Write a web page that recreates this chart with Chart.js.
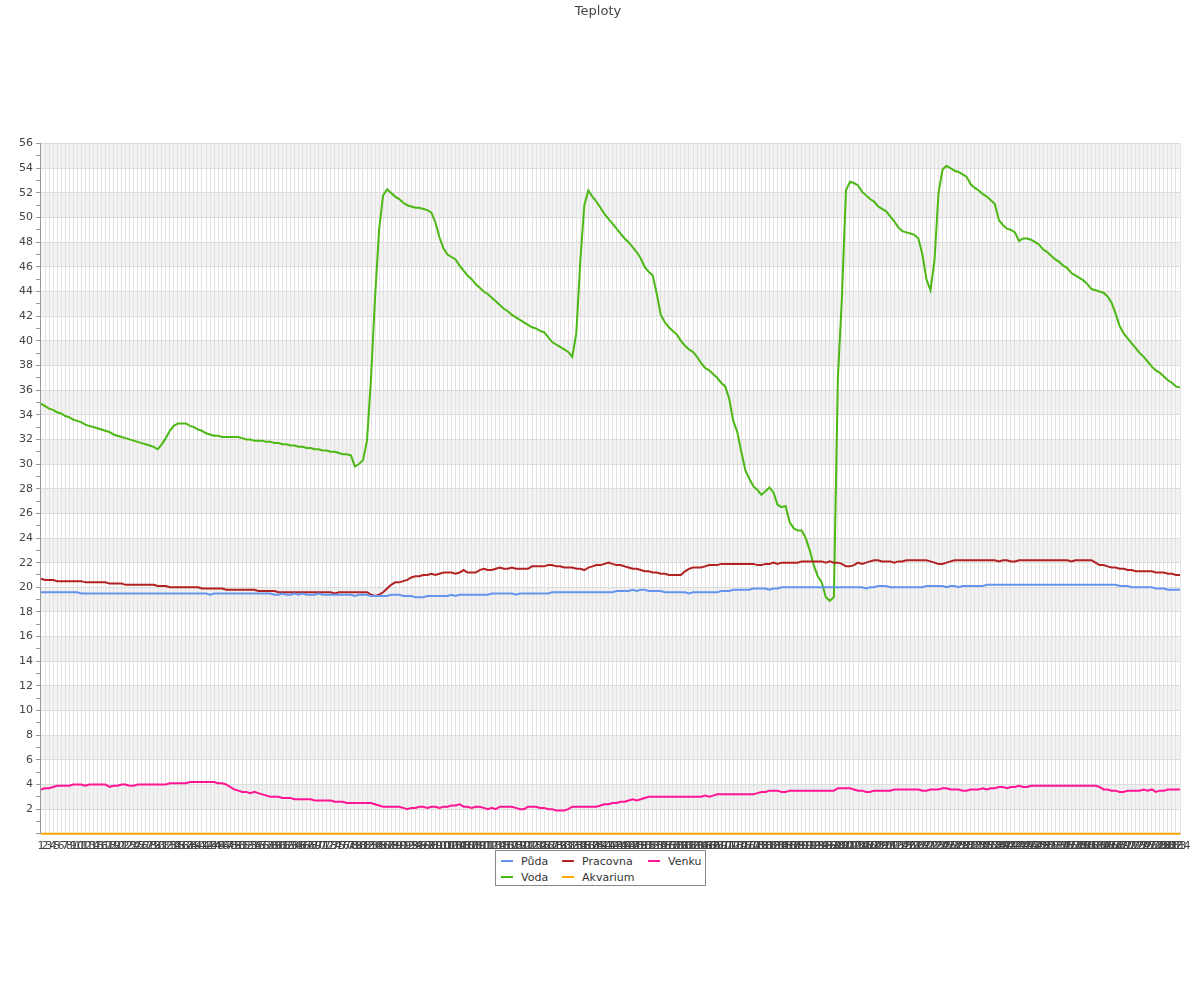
<!DOCTYPE html>
<html>
<head>
<meta charset="utf-8">
<script src="https://cdn.jsdelivr.net/npm/chart.js@4.4.1/dist/chart.umd.min.js"></script>
<style>
  body { margin: 0; background: #fff; font-family: 'DejaVu Sans', sans-serif; }
  #wrap { position: relative; width: 1200px; height: 1000px; }
  #legend {
    position: absolute; left: 495px; top: 850px; width: 211px; height: 36px;
    border: 1px solid #888; background: #fff;
    display: grid; grid-template-columns: 61px 86px 56px; grid-auto-rows: 16px;
    padding: 2px 0 0 5px; box-sizing: border-box; font-size: 11px; color: #333;
  }
  #legend .item { display: flex; align-items: center; white-space: nowrap; }
  #legend .sw { width: 12px; height: 2px; margin-right: 8px; }
</style>
</head>
<body>
<div id="wrap">
  <canvas id="chart" width="1200" height="1000"></canvas>
  <div id="legend"></div>
</div>
<script>
// Series colours
const pudaColor = '#6495ED';
const pracovnaColor = '#B22222';
const venkuColor = '#FF1493';
const vodaColor = '#4CB814';
const akvariumColor = '#FFA500';

// Category labels 1..284
const labels = [];
for (let i = 1; i <= 284; i++) labels.push(String(i));

const puda = [
  19.6,19.6,19.6,19.6,19.6,19.6,19.6,19.6,19.6,19.6,
  19.5,19.5,19.5,19.5,19.5,19.5,19.5,19.5,19.5,19.5,
  19.5,19.5,19.5,19.5,19.5,19.5,19.5,19.5,19.5,19.5,
  19.5,19.5,19.5,19.5,19.5,19.5,19.5,19.5,19.5,19.5,
  19.5,19.5,19.4,19.5,19.5,19.5,19.5,19.5,19.5,19.5,
  19.5,19.5,19.5,19.5,19.5,19.5,19.5,19.5,19.4,19.4,
  19.5,19.4,19.4,19.5,19.4,19.5,19.4,19.4,19.4,19.5,
  19.4,19.4,19.4,19.4,19.4,19.4,19.4,19.4,19.3,19.4,
  19.4,19.4,19.3,19.3,19.3,19.3,19.3,19.4,19.4,19.4,
  19.3,19.3,19.3,19.2,19.2,19.2,19.3,19.3,19.3,19.3,
  19.3,19.3,19.4,19.3,19.4,19.4,19.4,19.4,19.4,19.4,
  19.4,19.4,19.5,19.5,19.5,19.5,19.5,19.5,19.4,19.5,
  19.5,19.5,19.5,19.5,19.5,19.5,19.5,19.6,19.6,19.6,
  19.6,19.6,19.6,19.6,19.6,19.6,19.6,19.6,19.6,19.6,
  19.6,19.6,19.6,19.7,19.7,19.7,19.7,19.8,19.7,19.8,
  19.8,19.7,19.7,19.7,19.7,19.6,19.6,19.6,19.6,19.6,
  19.6,19.5,19.6,19.6,19.6,19.6,19.6,19.6,19.6,19.7,
  19.7,19.7,19.8,19.8,19.8,19.8,19.8,19.9,19.9,19.9,
  19.9,19.8,19.9,19.9,20.0,20.0,20.0,20.0,20.0,20.0,
  20.0,20.0,20.0,20.0,20.0,20.0,20.0,20.0,20.0,20.0,
  20.0,20.0,20.0,20.0,20.0,19.9,20.0,20.0,20.1,20.1,
  20.1,20.0,20.0,20.0,20.0,20.0,20.0,20.0,20.0,20.0,
  20.1,20.1,20.1,20.1,20.1,20.0,20.1,20.1,20.0,20.1,
  20.1,20.1,20.1,20.1,20.1,20.2,20.2,20.2,20.2,20.2,
  20.2,20.2,20.2,20.2,20.2,20.2,20.2,20.2,20.2,20.2,
  20.2,20.2,20.2,20.2,20.2,20.2,20.2,20.2,20.2,20.2,
  20.2,20.2,20.2,20.2,20.2,20.2,20.2,20.2,20.1,20.1,
  20.1,20.0,20.0,20.0,20.0,20.0,20.0,19.9,19.9,19.9,
  19.8,19.8,19.8,19.8
];

const pracovna = [
  20.7,20.6,20.6,20.6,20.5,20.5,20.5,20.5,20.5,20.5,
  20.5,20.4,20.4,20.4,20.4,20.4,20.4,20.3,20.3,20.3,
  20.3,20.2,20.2,20.2,20.2,20.2,20.2,20.2,20.2,20.1,
  20.1,20.1,20.0,20.0,20.0,20.0,20.0,20.0,20.0,20.0,
  19.9,19.9,19.9,19.9,19.9,19.9,19.8,19.8,19.8,19.8,
  19.8,19.8,19.8,19.8,19.7,19.7,19.7,19.7,19.7,19.6,
  19.6,19.6,19.6,19.6,19.6,19.6,19.6,19.6,19.6,19.6,
  19.6,19.6,19.6,19.5,19.6,19.6,19.6,19.6,19.6,19.6,
  19.6,19.6,19.4,19.3,19.4,19.6,19.9,20.2,20.4,20.4,
  20.5,20.6,20.8,20.9,20.9,21.0,21.0,21.1,21.0,21.1,
  21.2,21.2,21.2,21.1,21.2,21.4,21.2,21.2,21.2,21.4,
  21.5,21.4,21.4,21.5,21.6,21.5,21.5,21.6,21.5,21.5,
  21.5,21.5,21.7,21.7,21.7,21.7,21.8,21.8,21.7,21.7,
  21.6,21.6,21.6,21.5,21.5,21.4,21.6,21.7,21.8,21.8,
  21.9,22.0,21.9,21.8,21.8,21.7,21.6,21.5,21.5,21.4,
  21.3,21.3,21.2,21.2,21.1,21.1,21.0,21.0,21.0,21.0,
  21.3,21.5,21.6,21.6,21.6,21.7,21.8,21.8,21.8,21.9,
  21.9,21.9,21.9,21.9,21.9,21.9,21.9,21.9,21.8,21.8,
  21.9,21.9,22.0,21.9,22.0,22.0,22.0,22.0,22.0,22.1,
  22.1,22.1,22.1,22.1,22.1,22.0,22.1,22.0,22.0,21.9,
  21.7,21.7,21.8,22.0,21.9,22.0,22.1,22.2,22.2,22.1,
  22.1,22.1,22.0,22.1,22.1,22.2,22.2,22.2,22.2,22.2,
  22.2,22.1,22.0,21.9,21.9,22.0,22.1,22.2,22.2,22.2,
  22.2,22.2,22.2,22.2,22.2,22.2,22.2,22.2,22.1,22.2,
  22.2,22.1,22.1,22.2,22.2,22.2,22.2,22.2,22.2,22.2,
  22.2,22.2,22.2,22.2,22.2,22.2,22.1,22.2,22.2,22.2,
  22.2,22.2,22.0,21.8,21.8,21.7,21.6,21.6,21.5,21.5,
  21.4,21.4,21.3,21.3,21.3,21.3,21.3,21.2,21.2,21.2,
  21.1,21.1,21.0,21.0
];

const venku = [
  3.6,3.7,3.7,3.8,3.9,3.9,3.9,3.9,4.0,4.0,
  4.0,3.9,4.0,4.0,4.0,4.0,4.0,3.8,3.9,3.9,
  4.0,4.0,3.9,3.9,4.0,4.0,4.0,4.0,4.0,4.0,
  4.0,4.0,4.1,4.1,4.1,4.1,4.1,4.2,4.2,4.2,
  4.2,4.2,4.2,4.2,4.1,4.1,4.0,3.8,3.6,3.5,
  3.4,3.4,3.3,3.4,3.3,3.2,3.1,3.0,3.0,3.0,
  2.9,2.9,2.9,2.8,2.8,2.8,2.8,2.8,2.7,2.7,
  2.7,2.7,2.7,2.6,2.6,2.6,2.5,2.5,2.5,2.5,
  2.5,2.5,2.5,2.4,2.3,2.2,2.2,2.2,2.2,2.2,
  2.1,2.0,2.1,2.1,2.2,2.2,2.1,2.2,2.2,2.1,
  2.2,2.2,2.3,2.3,2.4,2.2,2.2,2.1,2.2,2.2,
  2.1,2.0,2.1,2.0,2.2,2.2,2.2,2.2,2.1,2.0,
  2.0,2.2,2.2,2.2,2.1,2.1,2.0,2.0,1.9,1.9,
  1.9,2.0,2.2,2.2,2.2,2.2,2.2,2.2,2.2,2.3,
  2.4,2.4,2.5,2.5,2.6,2.6,2.7,2.8,2.7,2.8,
  2.9,3.0,3.0,3.0,3.0,3.0,3.0,3.0,3.0,3.0,
  3.0,3.0,3.0,3.0,3.0,3.1,3.0,3.1,3.2,3.2,
  3.2,3.2,3.2,3.2,3.2,3.2,3.2,3.2,3.3,3.4,
  3.4,3.5,3.5,3.5,3.4,3.4,3.5,3.5,3.5,3.5,
  3.5,3.5,3.5,3.5,3.5,3.5,3.5,3.5,3.7,3.7,
  3.7,3.7,3.6,3.5,3.5,3.4,3.4,3.5,3.5,3.5,
  3.5,3.5,3.6,3.6,3.6,3.6,3.6,3.6,3.6,3.5,
  3.5,3.6,3.6,3.6,3.7,3.7,3.6,3.6,3.6,3.5,
  3.5,3.6,3.6,3.6,3.7,3.6,3.7,3.7,3.8,3.8,
  3.7,3.8,3.8,3.9,3.8,3.8,3.9,3.9,3.9,3.9,
  3.9,3.9,3.9,3.9,3.9,3.9,3.9,3.9,3.9,3.9,
  3.9,3.9,3.9,3.8,3.6,3.6,3.5,3.5,3.4,3.4,
  3.5,3.5,3.5,3.5,3.6,3.5,3.6,3.4,3.5,3.5,
  3.6,3.6,3.6,3.6
];

const voda = [
  34.9,34.7,34.5,34.4,34.2,34.1,33.9,33.8,33.6,33.5,
  33.4,33.2,33.1,33.0,32.9,32.8,32.7,32.6,32.4,32.3,
  32.2,32.1,32.0,31.9,31.8,31.7,31.6,31.5,31.4,31.2,
  31.6,32.1,32.7,33.1,33.3,33.3,33.3,33.1,33.0,32.8,
  32.7,32.5,32.4,32.3,32.3,32.2,32.2,32.2,32.2,32.2,
  32.1,32.0,32.0,31.9,31.9,31.9,31.8,31.8,31.7,31.7,
  31.6,31.6,31.5,31.5,31.4,31.4,31.3,31.3,31.2,31.2,
  31.1,31.1,31.0,31.0,30.9,30.8,30.8,30.7,29.8,30.0,
  30.3,31.9,37.0,43.5,49.0,51.8,52.3,52.0,51.7,51.5,
  51.2,51.0,50.9,50.8,50.8,50.7,50.6,50.4,49.6,48.4,
  47.5,47.0,46.8,46.6,46.1,45.7,45.3,45.0,44.6,44.3,
  44.0,43.8,43.5,43.2,42.9,42.6,42.4,42.1,41.9,41.7,
  41.5,41.3,41.1,41.0,40.8,40.7,40.3,39.9,39.7,39.5,
  39.3,39.1,38.7,40.6,46.5,51.0,52.2,51.7,51.3,50.8,
  50.3,49.9,49.5,49.1,48.7,48.3,48.0,47.6,47.2,46.7,
  46.0,45.6,45.3,43.8,42.1,41.5,41.1,40.8,40.5,40.0,
  39.6,39.3,39.1,38.7,38.2,37.8,37.6,37.3,37.0,36.6,
  36.3,35.3,33.5,32.6,31.0,29.5,28.8,28.2,27.9,27.5,
  27.8,28.1,27.7,26.7,26.5,26.6,25.3,24.8,24.6,24.6,
  24.0,23.0,21.8,20.9,20.4,19.2,18.9,19.2,37.0,43.5,
  52.2,52.9,52.8,52.6,52.1,51.8,51.5,51.3,50.9,50.7,
  50.5,50.1,49.7,49.2,48.9,48.8,48.7,48.6,48.3,47.0,
  45.0,44.1,46.5,52.0,53.9,54.2,54.0,53.8,53.7,53.5,
  53.3,52.7,52.4,52.2,51.9,51.7,51.4,51.1,49.8,49.4,
  49.1,49.0,48.8,48.1,48.3,48.3,48.2,48.0,47.8,47.4,
  47.2,46.9,46.6,46.4,46.1,45.9,45.5,45.3,45.1,44.9,
  44.6,44.2,44.1,44.0,43.9,43.6,43.1,42.2,41.2,40.6,
  40.2,39.8,39.4,39.0,38.7,38.3,37.9,37.6,37.4,37.1,
  36.8,36.6,36.3,36.2
];

const akvarium = [
  0,0,0,0,0,0,0,0,0,0, 0,0,0,0,0,0,0,0,0,0, 0,0,0,0,0,0,0,0,0,0,
  0,0,0,0,0,0,0,0,0,0, 0,0,0,0,0,0,0,0,0,0, 0,0,0,0,0,0,0,0,0,0,
  0,0,0,0,0,0,0,0,0,0, 0,0,0,0,0,0,0,0,0,0, 0,0,0,0,0,0,0,0,0,0,
  0,0,0,0,0,0,0,0,0,0, 0,0,0,0,0,0,0,0,0,0, 0,0,0,0,0,0,0,0,0,0,
  0,0,0,0,0,0,0,0,0,0, 0,0,0,0,0,0,0,0,0,0, 0,0,0,0,0,0,0,0,0,0,
  0,0,0,0,0,0,0,0,0,0, 0,0,0,0,0,0,0,0,0,0, 0,0,0,0,0,0,0,0,0,0,
  0,0,0,0,0,0,0,0,0,0, 0,0,0,0,0,0,0,0,0,0, 0,0,0,0,0,0,0,0,0,0,
  0,0,0,0,0,0,0,0,0,0, 0,0,0,0,0,0,0,0,0,0, 0,0,0,0,0,0,0,0,0,0,
  0,0,0,0,0,0,0,0,0,0, 0,0,0,0,0,0,0,0,0,0, 0,0,0,0,0,0,0,0,0,0,
  0,0,0,0,0,0,0,0,0,0, 0,0,0,0
];

const yMax = 56;

// alternating grey bands behind the plot
const bandPlugin = {
  id: 'bands',
  beforeDraw(chart) {
    const { ctx, chartArea, scales } = chart;
    ctx.save();
    ctx.fillStyle = '#ffffff';
    ctx.fillRect(0, 0, chart.width, chart.height);
    ctx.fillStyle = '#f2f2f2';
    for (let v = 2; v < yMax; v += 4) {
      const top = scales.y.getPixelForValue(v + 2);
      const bottom = scales.y.getPixelForValue(v);
      ctx.fillRect(chartArea.left, top, chartArea.right - chartArea.left, bottom - top);
    }
    ctx.restore();
  }
};

Chart.defaults.font.family = "'DejaVu Sans', sans-serif";
Chart.defaults.font.size = 11;
Chart.defaults.color = '#444';

const series = [
  { label: 'Půda', data: puda, color: pudaColor },
  { label: 'Pracovna', data: pracovna, color: pracovnaColor },
  { label: 'Venku', data: venku, color: venkuColor },
  { label: 'Voda', data: voda, color: vodaColor },
  { label: 'Akvarium', data: akvarium, color: akvariumColor }
];

new Chart(document.getElementById('chart'), {
  type: 'line',
  data: {
    labels: labels,
    datasets: series.map(s => ({
      label: s.label,
      data: s.data,
      borderColor: s.color,
      backgroundColor: s.color,
      borderWidth: 2,
      pointRadius: 0,
      tension: 0,
      fill: false,
      clip: false
    }))
  },
  options: {
    responsive: false,
    animation: false,
    layout: { padding: { left: 16, right: 20, top: 0, bottom: 141 } },
    plugins: {
      legend: { display: false },
      tooltip: { enabled: false },
      title: {
        display: true,
        text: 'Teploty',
        color: '#444',
        font: { size: 13, weight: 'normal' },
        padding: { top: 4, bottom: 124 }
      }
    },
    scales: {
      x: {
        grid: { color: '#e2e2e2', drawTicks: false },
        border: { color: '#999' },
        ticks: { autoSkip: false, maxRotation: 0, minRotation: 0, padding: 6, color: '#444' }
      },
      y: {
        min: 0,
        max: yMax,
        grid: {
          color: ctx => (ctx.tick && ctx.tick.value % 2 === 0 ? '#dcdcdc' : 'rgba(0,0,0,0)'),
          tickColor: '#999',
          tickLength: 5
        },
        border: { color: '#999' },
        ticks: {
          stepSize: 1,
          autoSkip: false,
          padding: 3,
          color: '#444',
          callback: v => (v % 2 === 0 && v !== 0 ? String(v) : '')
        }
      }
    }
  },
  plugins: [bandPlugin]
});

// legend laid out in three columns like the original
const legendEl = document.getElementById('legend');
series.forEach(s => {
  const item = document.createElement('div');
  item.className = 'item';
  const sw = document.createElement('span');
  sw.className = 'sw';
  sw.style.background = s.color;
  const txt = document.createElement('span');
  txt.textContent = s.label;
  item.appendChild(sw);
  item.appendChild(txt);
  legendEl.appendChild(item);
});
</script>
</body>
</html>
